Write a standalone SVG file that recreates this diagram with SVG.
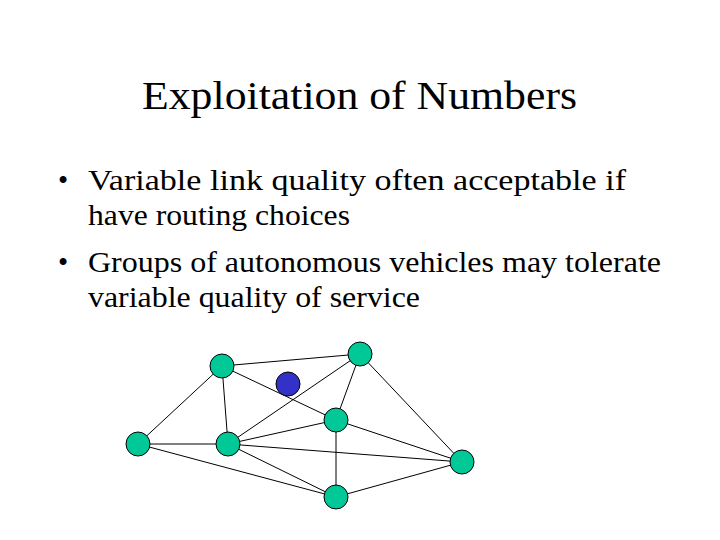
<svg xmlns="http://www.w3.org/2000/svg" width="720" height="540" viewBox="0 0 720 540">
<style>
text{font-family:"Liberation Serif","Times New Roman",serif;fill:#000}
.t{font-size:39px}
.b{font-size:29px}
.n{fill:#00c896;stroke:#000;stroke-width:1}
line{stroke:#000;stroke-width:1}
</style>
<rect width="720" height="540" fill="#fff"/>
<text class="t" x="142" y="109" textLength="435" lengthAdjust="spacingAndGlyphs">Exploitation of Numbers</text>
<text class="b" x="58" y="190" font-size="24">•</text>
<text class="b" x="88" y="190" textLength="538" lengthAdjust="spacingAndGlyphs">Variable link quality often acceptable if</text>
<text class="b" x="88" y="225" textLength="262" lengthAdjust="spacingAndGlyphs">have routing choices</text>
<text class="b" x="58" y="272" font-size="24">•</text>
<text class="b" x="88" y="272" textLength="573" lengthAdjust="spacingAndGlyphs">Groups of autonomous vehicles may tolerate</text>
<text class="b" x="88" y="307" textLength="332" lengthAdjust="spacingAndGlyphs">variable quality of service</text>
<g id="connectors">
<line x1="222" y1="366" x2="360" y2="354"/>
<line x1="222" y1="366" x2="138" y2="444"/>
<line x1="222" y1="366" x2="228" y2="444"/>
<line x1="222" y1="366" x2="336" y2="420"/>
<line x1="360" y1="354" x2="228" y2="444"/>
<line x1="360" y1="354" x2="336" y2="420"/>
<line x1="360" y1="354" x2="462" y2="462"/>
<line x1="138" y1="444" x2="228" y2="444"/>
<line x1="138" y1="444" x2="336" y2="497"/>
<line x1="228" y1="444" x2="336" y2="420"/>
<line x1="228" y1="444" x2="462" y2="462"/>
<line x1="228" y1="444" x2="336" y2="497"/>
<line x1="336" y1="420" x2="462" y2="462"/>
<line x1="336" y1="420" x2="336" y2="497"/>
<line x1="336" y1="497" x2="462" y2="462"/>
</g>
<g id="nA"><circle class="n" cx="222" cy="366" r="12"/></g>
<g id="nB"><circle class="n" cx="360" cy="354" r="12"/></g>
<g id="nBlue"><circle cx="288" cy="384" r="12" fill="#3232c8" stroke="#000"/></g>
<g id="nC"><circle class="n" cx="336" cy="420" r="12"/></g>
<g id="nD"><circle class="n" cx="138" cy="444" r="12"/></g>
<g id="nE"><circle class="n" cx="228" cy="444" r="12"/></g>
<g id="nF"><circle class="n" cx="462" cy="462" r="12"/></g>
<g id="nG"><circle class="n" cx="336" cy="497" r="12"/></g>
</svg>
